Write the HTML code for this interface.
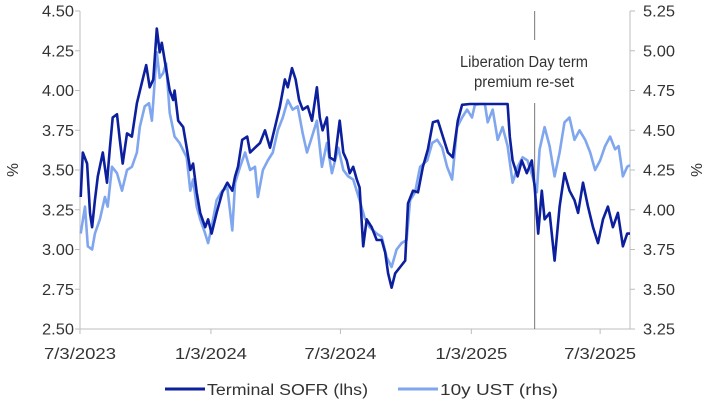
<!DOCTYPE html>
<html><head><meta charset="utf-8">
<style>
body{margin:0;background:#fff;}
svg{display:block;font-family:"Liberation Sans Narrow","Liberation Sans",sans-serif;}
.tk{font-size:15.5px;fill:#333;}
</style></head>
<body>
<svg id="chart" width="705" height="405" viewBox="0 0 705 405"></svg>
<script>
// days since 7/3/2023
const sofrDays=[1,4,10,14,17,21,25,32,38,42,46,52,56,60,66,73,80,87,93,98,103,108,112,115,122,126,131,133,138,145,150,155,159,164,169,176,180,185,192,200,207,214,218,222,228,235,239,246,253,260,267,274,281,288,292,298,303,308,313,320,326,333,337,341,347,351,358,365,370,375,379,384,389,393,398,403,410,417,424,429,433,438,443,450,457,461,468,475,482,489,496,503,510,517,524,531,537,548,562,576,590,601,604,608,615,621,628,635,639,644,649,653,660,667,674,681,688,695,700,707,714,721,728,735,742,749,756,763,769,773];
const sofrVals=[3.33,3.61,3.54,3.23,3.14,3.31,3.46,3.61,3.42,3.64,3.83,3.85,3.69,3.54,3.73,3.71,3.92,4.05,4.16,4.02,4.07,4.39,4.24,4.30,4.11,4.00,3.94,4.00,3.81,3.77,3.64,3.50,3.54,3.36,3.23,3.14,3.19,3.10,3.23,3.36,3.42,3.37,3.46,3.52,3.69,3.71,3.61,3.64,3.67,3.75,3.64,3.77,3.90,4.07,4.02,4.14,4.07,3.94,3.88,3.90,3.81,4.02,3.83,3.75,3.83,3.58,3.56,3.81,3.61,3.56,3.48,3.52,3.44,3.39,3.02,3.19,3.14,3.06,3.06,2.98,2.85,2.76,2.85,2.89,2.93,3.29,3.37,3.36,3.52,3.63,3.80,3.81,3.71,3.61,3.58,3.81,3.91,3.97,3.99,3.96,3.98,3.93,3.71,3.56,3.46,3.56,3.48,3.56,3.39,3.10,3.37,3.19,3.23,2.93,3.27,3.48,3.37,3.31,3.23,3.42,3.27,3.14,3.04,3.19,3.27,3.14,3.23,3.02,3.10,3.10];
const ustDays=[1,7,11,17,21,28,35,39,45,52,59,66,73,80,84,91,97,101,108,112,117,121,126,133,140,150,155,159,164,169,176,180,185,192,200,207,214,218,225,232,239,246,250,257,264,271,278,285,292,299,306,313,319,326,333,340,347,354,363,370,377,384,393,400,407,417,424,431,438,445,452,459,464,471,478,488,495,502,509,516,523,530,537,544,551,555,562,569,573,580,587,594,601,608,615,622,629,636,642,646,653,660,667,674,681,688,695,702,710,717,724,731,738,745,752,757,763,769,773];
const ustVals=[3.85,4.02,3.77,3.75,3.85,3.94,4.08,4.02,4.27,4.23,4.12,4.25,4.27,4.36,4.52,4.65,4.67,4.56,4.99,4.83,4.86,4.92,4.61,4.46,4.42,4.33,4.12,4.19,4.02,3.94,3.85,3.79,3.89,4.06,4.12,4.14,3.87,4.17,4.27,4.36,4.25,4.27,4.08,4.25,4.31,4.36,4.50,4.58,4.69,4.63,4.65,4.48,4.36,4.46,4.56,4.27,4.42,4.23,4.39,4.25,4.21,4.19,4.06,3.95,3.89,3.85,3.83,3.70,3.64,3.75,3.79,3.81,4.06,4.11,4.27,4.31,4.42,4.44,4.39,4.27,4.19,4.52,4.58,4.63,4.58,4.66,4.72,4.70,4.55,4.63,4.44,4.52,4.40,4.17,4.27,4.33,4.31,4.21,4.11,4.38,4.52,4.40,4.21,4.36,4.55,4.58,4.44,4.50,4.44,4.36,4.25,4.31,4.40,4.46,4.38,4.40,4.21,4.27,4.28];
const leftTicks=[2.50,2.75,3.00,3.25,3.50,3.75,4.00,4.25,4.50];
const rightTicks=[3.25,3.50,3.75,4.00,4.25,4.50,4.75,5.00,5.25];
const xTickDays=[0,184,366,550,731];
const xTickLabels=["7/3/2023","1/3/2024","7/3/2024","1/3/2025","7/3/2025"];
const eventDay=639;

const NS="http://www.w3.org/2000/svg";
const svg=document.getElementById('chart');
const X0=80,X1=630,Y0=329,Y1=11,DMAX=773;
const BOX={x0:448,x1:600,y1:104};
const xs=d=>X0+d*(X1-X0)/DMAX;
const yl=v=>Y0-(v-2.5)/2*(Y0-Y1);
const yr=v=>Y0-(v-3.25)/2*(Y0-Y1);
function mk(tag,attrs,parent){const e=document.createElementNS(NS,tag);for(const k in attrs)e.setAttribute(k,attrs[k]);(parent||svg).appendChild(e);return e;}

let g=mk('g',{});


let a=mk('line',{x1:X0,y1:Y1,x2:X0,y2:Y0,stroke:'#bdbdbd','stroke-width':1},g);

a=mk('line',{x1:X1,y1:Y1,x2:X1,y2:Y0,stroke:'#bdbdbd','stroke-width':1},g);

a=mk('line',{x1:X0,y1:Y0,x2:X1,y2:Y0,stroke:'#bdbdbd','stroke-width':1},g);

leftTicks.forEach(v=>{
  const y=yl(v);
  mk('line',{x1:X0-5,y1:y,x2:X0,y2:y,stroke:'#bdbdbd'},g);
  const t=mk('text',{x:X0-6,y:y+5.5,'text-anchor':'end',class:'tk',textLength:32,lengthAdjust:'spacingAndGlyphs'},g);t.textContent=v.toFixed(2);
  
  
});
rightTicks.forEach(v=>{
  const y=yr(v);
  mk('line',{x1:X1,y1:y,x2:X1+5,y2:y,stroke:'#bdbdbd'},g);
  const t=mk('text',{x:X1+13,y:y+5.5,'text-anchor':'start',class:'tk',textLength:32,lengthAdjust:'spacingAndGlyphs'},g);t.textContent=v.toFixed(2);
  
  
});
xTickDays.forEach((d,i)=>{
  const x=xs(d);
  mk('line',{x1:x,y1:Y0,x2:x,y2:Y0+5,stroke:'#bdbdbd'},g);
  const t=mk('text',{x:x-36,y:Y0+30,class:'tk',textLength:72,lengthAdjust:'spacingAndGlyphs'},g);t.textContent=xTickLabels[i];
  
  
});
let t=mk('text',{x:0,y:0,transform:'translate(18,170) rotate(-90)','text-anchor':'middle',class:'tk'});t.textContent='%';

t=mk('text',{x:0,y:0,transform:'translate(702,170) rotate(-90)','text-anchor':'middle',class:'tk'});t.textContent='%';


// event line
let ev=mk('line',{x1:xs(eventDay),y1:Y1,x2:xs(eventDay),y2:Y0,stroke:'#777','stroke-width':1});


function series(days,vals,yf,color,name){
  const p=days.map((d,i)=>{
    const x=xs(d);let y=yf(vals[i]);
    if(x>=BOX.x0&&x<=BOX.x1&&y<BOX.y1)y=BOX.y1;
    return (i?'L':'M')+x.toFixed(1)+','+y.toFixed(1);
  }).join('');
  const e=mk('path',{d:p,fill:'none',stroke:color,'stroke-width':2.6,'stroke-linejoin':'round'});
  
  
}

// annotation box
let bx=mk('rect',{x:448,y:40,width:152,height:63,fill:'#fff'});

t=mk('text',{x:460,y:67,class:'tk',textLength:128,lengthAdjust:'spacingAndGlyphs'});t.textContent='Liberation Day term';

t=mk('text',{x:474,y:87,class:'tk',textLength:100,lengthAdjust:'spacingAndGlyphs'});t.textContent='premium re-set';


series(ustDays,ustVals,yr,'#7fa6ee','ust-10y-line');
series(sofrDays,sofrVals,yl,'#0c1f9e','terminal-sofr-line');

// legend
let lg=mk('g',{});

let l1=mk('line',{x1:165,y1:389,x2:205,y2:389,stroke:'#0c1f9e','stroke-width':3},lg);

t=mk('text',{x:207,y:395,class:'tk',textLength:161,lengthAdjust:'spacingAndGlyphs'},lg);t.textContent='Terminal SOFR (lhs)';

let l2=mk('line',{x1:398,y1:389,x2:438,y2:389,stroke:'#7fa6ee','stroke-width':3},lg);

t=mk('text',{x:440,y:395,class:'tk',textLength:118,lengthAdjust:'spacingAndGlyphs'},lg);t.textContent='10y UST (rhs)';

</script>
</body></html>
